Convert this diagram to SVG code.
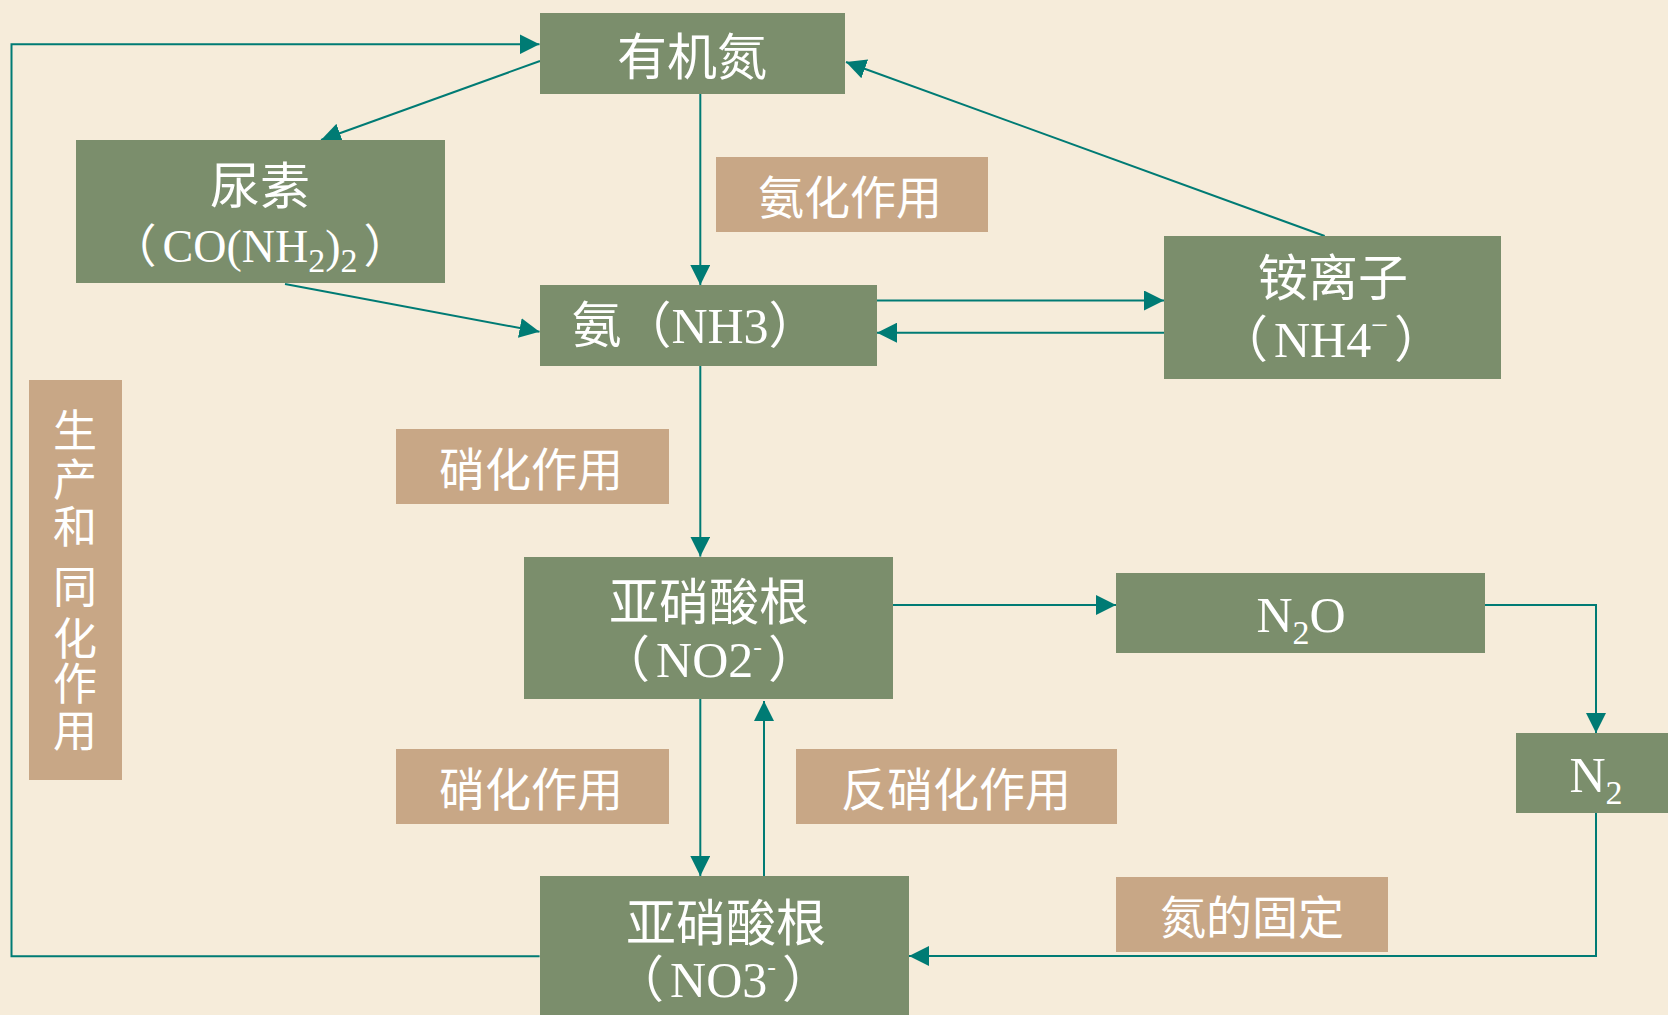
<svg xmlns="http://www.w3.org/2000/svg" width="1668" height="1015" viewBox="0 0 1668 1015">
<style>
.bg{fill:#F6ECDA}
.node{fill:#7B8E6C}
.lab{fill:#C8A786}
.t{fill:#FFFFFF;font-family:"Liberation Serif","Noto Sans CJK SC",serif;text-anchor:middle}
.c{font-family:"Noto Sans CJK SC","Liberation Serif",sans-serif}
.big{font-size:50px}
.mid{font-size:46px}
.conn{fill:none;stroke:#007B74;stroke-width:2}
</style>
<defs>
<marker id="ah" markerUnits="userSpaceOnUse" markerWidth="20" markerHeight="20" refX="20" refY="10" orient="auto">
<path d="M0,0 L20,10 L0,20 z" fill="#007B74"/>
</marker>
</defs>
<rect class="bg" x="0" y="0" width="1668" height="1015"/>

<g id="connectors">
<path class="conn" d="M539.6,956.3 L11.5,956.3 L11.5,44.3 L539.5,44.3" marker-end="url(#ah)"/>
<path class="conn" d="M540,61 L321,140" marker-end="url(#ah)"/>
<path class="conn" d="M285,284 L539.5,331.7" marker-end="url(#ah)"/>
<path class="conn" d="M700.3,94 L700.3,285" marker-end="url(#ah)"/>
<path class="conn" d="M877,300.5 L1164,300.5" marker-end="url(#ah)"/>
<path class="conn" d="M1164,332.7 L877,332.7" marker-end="url(#ah)"/>
<path class="conn" d="M1324.7,236 L846,62" marker-end="url(#ah)"/>
<path class="conn" d="M700.3,366 L700.3,556.6" marker-end="url(#ah)"/>
<path class="conn" d="M700.3,698.7 L700.3,876" marker-end="url(#ah)"/>
<path class="conn" d="M764,876 L764,701" marker-end="url(#ah)"/>
<path class="conn" d="M893,605 L1116,605" marker-end="url(#ah)"/>
<path class="conn" d="M1485,605 L1596,605 L1596,733" marker-end="url(#ah)"/>
<path class="conn" d="M1596,813 L1596,956 L909,956" marker-end="url(#ah)"/>
</g>

<g id="organic-n">
<rect class="node" x="540" y="13" width="305" height="81"/>
<text class="t c big" x="692" y="75">有机氮</text>
</g>

<g id="urea">
<rect class="node" x="76" y="140" width="369" height="143"/>
<text class="t c big" x="260" y="204">尿素</text>
<text class="t" x="260" y="262" font-size="46"><tspan class="c">（</tspan><tspan dx="6">CO(NH</tspan><tspan font-size="34" dy="10">2</tspan><tspan dy="-10">)</tspan><tspan font-size="34" dy="10">2</tspan><tspan class="c" dx="6" dy="-10">）</tspan></text>
</g>

<g id="ammonia">
<rect class="node" x="540" y="285" width="337" height="81"/>
<text class="t big" x="695" y="343"><tspan class="c">氨（</tspan>NH3<tspan class="c">）</tspan></text>
</g>

<g id="ammonium">
<rect class="node" x="1164" y="236" width="337" height="143"/>
<text class="t c big" x="1333" y="296">铵离子</text>
<text class="t big" x="1331" y="357"><tspan class="c">（</tspan><tspan dx="6">NH4</tspan><tspan font-size="30" dy="-22">−</tspan><tspan class="c" dx="6" dy="22">）</tspan></text>
</g>

<g id="nitrite">
<rect class="node" x="524" y="557" width="369" height="142"/>
<text class="t c big" x="709" y="620">亚硝酸根</text>
<text class="t big" x="709" y="677"><tspan class="c">（</tspan><tspan dx="6">NO2</tspan><tspan font-size="26" dy="-22">-</tspan><tspan class="c" dx="6" dy="22">）</tspan></text>
</g>

<g id="nitrate">
<rect class="node" x="540" y="876" width="369" height="145"/>
<text class="t c big" x="726" y="941">亚硝酸根</text>
<text class="t big" x="723" y="997"><tspan class="c">（</tspan><tspan dx="6">NO3</tspan><tspan font-size="26" dy="-22">-</tspan><tspan class="c" dx="6" dy="22">）</tspan></text>
</g>

<g id="n2o">
<rect class="node" x="1116" y="573" width="369" height="80"/>
<text class="t big" x="1301" y="632">N<tspan font-size="34" dy="12">2</tspan><tspan dy="-12">O</tspan></text>
</g>

<g id="n2">
<rect class="node" x="1516" y="733" width="160" height="80"/>
<text class="t big" x="1596" y="792">N<tspan font-size="34" dy="12">2</tspan></text>
</g>

<g id="label-ammonification">
<rect class="lab" x="716" y="157" width="272" height="75"/>
<text class="t c mid" x="850" y="214">氨化作用</text>
</g>

<g id="label-nitrification-1">
<rect class="lab" x="396" y="429" width="273" height="75"/>
<text class="t c mid" x="531" y="486">硝化作用</text>
</g>

<g id="label-nitrification-2">
<rect class="lab" x="396" y="749" width="273" height="75"/>
<text class="t c mid" x="531" y="806">硝化作用</text>
</g>

<g id="label-denitrification">
<rect class="lab" x="796" y="749" width="321" height="75"/>
<text class="t c mid" x="956" y="806">反硝化作用</text>
</g>

<g id="label-fixation">
<rect class="lab" x="1116" y="877" width="272" height="75"/>
<text class="t c mid" x="1252" y="934">氮的固定</text>
</g>

<g id="label-assimilation">
<rect class="lab" x="29" y="380" width="93" height="400"/>
<text class="t c" font-size="44" x="75"><tspan x="75" y="447">生</tspan><tspan x="75" y="496">产</tspan><tspan x="75" y="543">和</tspan><tspan x="75" y="603">同</tspan><tspan x="75" y="655">化</tspan><tspan x="75" y="700">作</tspan><tspan x="75" y="747">用</tspan></text>
</g>
</svg>
